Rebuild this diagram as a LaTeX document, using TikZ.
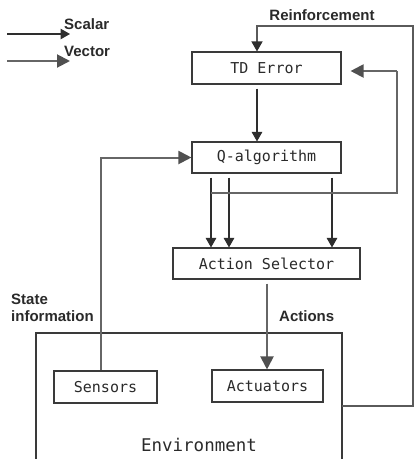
\documentclass[tikz,border=0pt]{standalone}
\usepackage{fontspec}
\setmainfont{Liberation Sans}
\newfontfamily\boxfont{DejaVu Sans Mono}
\usetikzlibrary{arrows.meta}
\definecolor{boxc}{HTML}{3A3A3A}
\definecolor{scal}{HTML}{2E2E2E}
\definecolor{vecc}{HTML}{666666}
\definecolor{vech}{HTML}{505050}
\definecolor{fbc}{HTML}{5A5A5A}
\definecolor{labc}{HTML}{2A2A2A}
\tikzset{
  box/.style={draw=boxc, line width=1.1pt, text=labc, inner sep=0pt,
    font=\boxfont\fontsize{15}{18}\selectfont},
  boxline/.style={draw=boxc, line width=1.1pt},
  envlabel/.style={text=labc, inner sep=0pt, font=\boxfont\fontsize{17.5}{20}\selectfont},
  sc/.style={draw=scal, line width=1.1pt, -{Triangle[length=9.5pt,width=10.5pt]}},
  vec/.style={draw=vecc, line width=2pt, -{Triangle[length=13pt,width=13pt,color=vech,fill=vech]}},
  vecline/.style={draw=vecc, line width=1.6pt},
  fb/.style={draw=fbc, line width=1.3pt, -{Triangle[length=10pt,width=11pt,color=scal,fill=scal]}},
  lab/.style={text=labc, inner sep=0pt, font=\bfseries\fontsize{15}{17}\selectfont}
}
\begin{document}
\begin{tikzpicture}[x=1pt,y=-1pt]
\useasboundingbox (0,0) rectangle (415,459);
\fill[white] (0,0) rectangle (415,459);
% boxes
\node[box, minimum width=149pt, minimum height=32pt] (td) at (266.5,68) {TD Error};
\node[box, minimum width=149pt, minimum height=31pt] (q) at (266.5,157.5) {Q-algorithm};
\node[box, minimum width=187pt, minimum height=31pt] (as) at (266.5,263.5) {Action Selector};
\node[box, minimum width=103pt, minimum height=32pt] (sen) at (105.5,387) {Sensors};
\node[box, minimum width=111pt, minimum height=32pt] (act) at (267.5,386) {Actuators};
% environment
\coordinate (envSW) at (36,470);
\coordinate (envNW) at (36,333);
\coordinate (envNE) at (342,333);
\coordinate (envSE) at (342,470);
\draw[boxline] (envSW) -- (envNW) -- (envNE) -- (envSE);
\node[envlabel] (envt) at (199,445) {Environment};
% columns / rows
\coordinate (c1) at (211,0);
\coordinate (c2) at (229,0);
\coordinate (c3) at (332,0);
\coordinate (cr) at (397,0);
\coordinate (ctd) at (257,0);
\coordinate (cact) at (267,0);
\coordinate (csen) at (101,0);
\coordinate (cfar) at (413,0);
\coordinate (rfb) at (0,193);
\coordinate (rin) at (0,71);
\coordinate (rtop) at (0,26);
\coordinate (renv) at (0,406);
% connectors
\draw[sc, shorten <=4pt] (ctd |- td.south) -- (ctd |- q.north);
\foreach \c in {c1,c2,c3}
  \draw[sc, shorten <=4pt] (\c |- q.south) -- (\c |- as.north);
\draw[vec, shorten <=4pt] (cact |- as.south) -- (cact |- act.north);
\draw[vec] (csen |- sen.north) -- (csen |- q.west) -- (q.west);
\draw[vecline] (c1 |- rfb) -- (cr |- rfb) -- (cr |- rin);
\draw[vec, shorten >=9pt] (cr |- rin) -- (td.east |- rin);
\draw[fb] (envNE |- renv) -- (cfar |- renv) -- (cfar |- rtop) -- (ctd |- rtop) -- (ctd |- td.north);
% legend
\coordinate (s0) at (7,34);
\coordinate (s1) at (70,34);
\coordinate (v0) at (7,61);
\coordinate (v1) at (70,61);
\draw[sc] (s0) -- (s1);
\draw[vec] (v0) -- (v1);
% labels
\node[lab, anchor=west] (lscalar) at (64,24) {Scalar};
\node[lab, anchor=west] (lvector) at (64,51) {Vector};
\node[lab] (lreinf) at (322,15) {Reinforcement};
\node[lab, anchor=west, align=left] (lstate) at (11,307.5) {State\\information};
\node[lab, anchor=west] (lactions) at (279,316) {Actions};
\end{tikzpicture}
\end{document}
